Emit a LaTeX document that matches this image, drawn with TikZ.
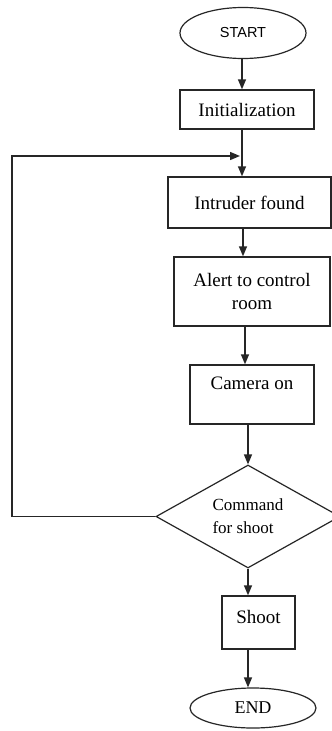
\documentclass[tikz,border=0pt]{standalone}
\usepackage{fontspec}
\setmainfont{Liberation Serif}
\newfontfamily\startfont{Liberation Sans}
\usetikzlibrary{shapes.geometric,arrows.meta}
\begin{document}
\begin{tikzpicture}[x=1pt,y=-1pt,
  every node/.style={font=\fontsize{19}{23}\selectfont},
  box/.style={draw=black!85, line width=1.4pt, rectangle, inner sep=0pt, align=center},
  term/.style={draw=black!85, line width=1.2pt, ellipse, inner sep=0pt},
  dec/.style={draw=black!85, line width=1.2pt, diamond, inner sep=0pt, aspect=1.79},
  arr/.style={draw=black!85, line width=1.4pt, -{Triangle[length=10pt,width=8pt]}}]
\useasboundingbox (0,0) rectangle (332,731);
\fill[white] (0,0) rectangle (332,731);
\node[term, minimum width=126, minimum height=51, font=\startfont\fontsize{14.5}{17}\selectfont] (start) at (243,33) {START};
\node[box, minimum width=134, minimum height=39] (init) at (247,109.5) {Initialization};
\node[box, minimum width=163, minimum height=51] (intr) at (249.5,202.5) {Intruder found};
\node[box, minimum width=156, minimum height=69] (alert) at (252,291.5) {Alert to control\\room};
\node[box, minimum width=124, minimum height=59] (cam) at (252,394.5) {Camera on\\\mbox{}};
\node[dec, minimum width=184, minimum height=103, align=left, font=\fontsize{17}{23}\selectfont] (dec) at (248,516.5) {Command\\for shoot};
\node[box, minimum width=73, minimum height=53] (shoot) at (258.5,622.5) {};
\node (shoottext) at ([yshift=6pt]shoot.center) {Shoot};
\node[term, minimum width=126, minimum height=40, font=\fontsize{18}{22}\selectfont] (end) at (253,708) {END};
\coordinate (c1) at (242,0);
\coordinate (c2) at (243,0);
\coordinate (c3) at (245,0);
\coordinate (loopend) at (240,156);
\coordinate (loopx) at (12,0);
\draw[arr] (start.south -| c1) -- (init.north -| c1);
\draw[arr] (init.south -| c1) -- (intr.north -| c1);
\draw[arr] (intr.south -| c2) -- (alert.north -| c2);
\draw[arr] (alert.south -| c3) -- (cam.north -| c3);
\draw[arr] (cam.south -| dec.north) -- (dec.north);
\draw[arr] (dec.south) -- (shoot.north -| dec.south);
\draw[arr] (shoot.south -| dec.south) -- (end.north -| dec.south);
\draw[arr] (dec.west) -| (loopx |- dec.west) |- (loopend);
\end{tikzpicture}
\end{document}
